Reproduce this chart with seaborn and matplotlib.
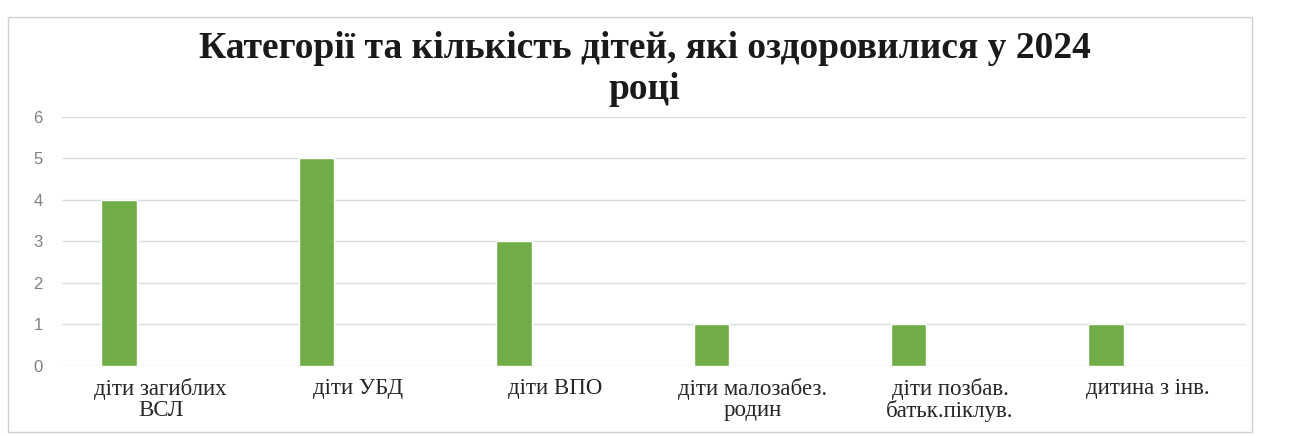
import matplotlib
matplotlib.use("Agg")
import matplotlib.pyplot as plt
import matplotlib.patches as mpatches
import pandas as pd
import seaborn as sns

# Дані з діаграми
категорії = ["діти загиблих\nВСЛ", "діти УБД", "діти ВПО",
             "діти малозабез.\nродин", "діти позбав.\nбатьк.піклув.", "дитина з інв."]
кількість = [4, 5, 3, 1, 1, 1]
поділки_y = [0, 1, 2, 3, 4, 5, 6]

df = pd.DataFrame({"категорія": категорії, "кількість": кількість})

sns.set_theme(style="white")
plt.rcParams['font.family'] = ['Liberation Serif', 'DejaVu Serif']

fig = plt.figure(figsize=(12.89, 4.36), dpi=100)
ax = fig.add_axes([0.0481, 0.1606, 0.9186, 0.5711])

sns.barplot(data=df, x="категорія", y="кількість", color="#70AD47",
            saturation=1, width=0.18, ax=ax)

# зсув стовпців ліворуч у межах категорії, як у Excel
for p in ax.patches:
    p.set_x(p.get_x() - 0.21)

ax.set_xlim(-0.5, len(категорії) - 0.5)
ax.set_ylim(0, 6)
ax.set_yticks(поділки_y)
ax.yaxis.grid(True, color="#d9dde3", linewidth=1)
ax.xaxis.grid(False)
for s in ax.spines.values():
    s.set_visible(False)

ax.set_xlabel("")
ax.set_ylabel("")
ax.tick_params(axis="y", length=0, pad=14, labelcolor="#7f7f7f", labelsize=12)
ax.tick_params(axis="x", length=0, pad=9, labelcolor="#262626", labelsize=16.5)
for lbl in ax.get_yticklabels():
    lbl.set_family(['Liberation Sans', 'DejaVu Sans'])
for lbl in ax.get_xticklabels():
    lbl.set_linespacing(1.0)

fig.text(0.5, 0.842, "Категорії та кількість дітей, які оздоровилися у 2024\nроці",
         ha="center", va="center", fontsize=27, fontweight="bold",
         color="#1a1a1a", linespacing=1.2)

# рамка діаграми
fig.patches.append(mpatches.Rectangle((0.006, 0.01), 0.965, 0.95, transform=fig.transFigure,
                                      fill=False, edgecolor="#d0d0d0", linewidth=1))

fig.savefig("out.png", dpi=100, facecolor="white")
